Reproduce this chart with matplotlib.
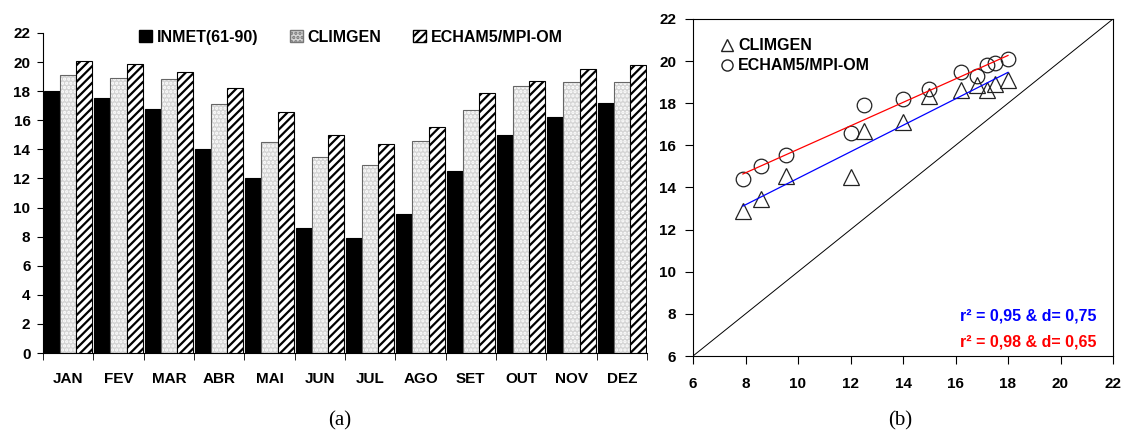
"""Monthly temperature: INMET normals vs CLIMGEN and ECHAM5/MPI-OM, bars (a) and scatter (b)."""
import matplotlib
matplotlib.use("Agg")
import matplotlib.pyplot as plt
import numpy as np
from matplotlib.lines import Line2D
from matplotlib.patches import Patch

plt.rcParams["font.family"] = ["Liberation Sans", "DejaVu Sans"]
plt.rcParams["font.weight"] = "bold"
plt.rcParams["hatch.linewidth"] = 1.6

MONTHS = ["JAN", "FEV", "MAR", "ABR", "MAI", "JUN", "JUL", "AGO", "SET", "OUT", "NOV", "DEZ"]
INMET = [18.0, 17.5, 16.8, 14.0, 12.0, 8.6, 7.9, 9.55, 12.5, 15.0, 16.2, 17.2]
CLIMGEN = [19.1, 18.9, 18.85, 17.1, 14.5, 13.45, 12.9, 14.55, 16.7, 18.35, 18.65, 18.65]
ECHAM = [20.1, 19.9, 19.3, 18.2, 16.6, 15.0, 14.4, 15.55, 17.9, 18.7, 19.5, 19.8]

LABELS = ["INMET(61-90)", "CLIMGEN", "ECHAM5/MPI-OM"]
STATS = ["r² = 0,95 & d= 0,75", "r² = 0,98 & d= 0,65"]

W, H = 1123, 436
fig = plt.figure(figsize=(W / 100, H / 100), dpi=100)

# ---- (a) bars
ax = fig.add_axes([43 / W, (H - 353) / H, (647 - 43) / W, (353 - 33) / H])
x = np.arange(len(MONTHS))
bw = 0.32
ax.bar(x - bw, INMET, bw, color="black", edgecolor="black", linewidth=0.8)
ax.bar(x, CLIMGEN, bw, color="#d4d4d4", hatch="....", edgecolor="white", linewidth=0)
ax.bar(x, CLIMGEN, bw, fill=False, edgecolor="#666666", linewidth=0.8)
ax.bar(x + bw, ECHAM, bw, color="white", hatch="////", edgecolor="black", linewidth=0.8)

ax.set_xlim(-0.5, len(MONTHS) - 0.5)
ax.set_ylim(0, 22)
ax.set_yticks(range(0, 23, 2))
ax.set_xticks(x)
ax.set_xticklabels(MONTHS)
ax.set_xticks(np.arange(-0.5, len(MONTHS), 1), minor=True)
ax.tick_params(axis="x", which="major", length=0, pad=14, labelsize=11)
ax.tick_params(axis="x", which="minor", length=5, direction="out")
ax.tick_params(axis="y", length=4, pad=5, labelsize=11)
for s in ("top", "right"):
    ax.spines[s].set_visible(False)

handles = [
    Patch(facecolor="black", edgecolor="black", label=LABELS[0]),
    Patch(facecolor="#d4d4d4", hatch="....", edgecolor="#777777", label=LABELS[1]),
    Patch(facecolor="white", hatch="////", edgecolor="black", label=LABELS[2]),
]
ax.legend(handles=handles, loc="upper center", bbox_to_anchor=(0.51, 1.055), ncol=3,
          frameon=False, fontsize=11.5, handlelength=0.8, handleheight=0.8,
          handletextpad=0.3, columnspacing=2.0)

# ---- (b) scatter
bx = fig.add_axes([693 / W, (H - 356) / H, (1113 - 693) / W, (356 - 19) / H])
bx.plot([6, 22], [6, 22], color="black", linewidth=0.7)
bx.plot(INMET, CLIMGEN, linestyle="none", marker="^", markersize=12,
        markerfacecolor="none", markeredgecolor="#222222", markeredgewidth=0.9)
bx.plot(INMET, ECHAM, linestyle="none", marker="o", markersize=10.5,
        markerfacecolor="none", markeredgecolor="#222222", markeredgewidth=0.9)

xs = np.array([min(INMET), max(INMET)])
for ys, col in ((CLIMGEN, "blue"), (ECHAM, "red")):
    k, b = np.polyfit(INMET, ys, 1)
    bx.plot(xs, k * xs + b, color=col, linewidth=0.9)

bx.set_xlim(6, 22)
bx.set_ylim(6, 22)
bx.set_xticks(range(6, 23, 2))
bx.set_yticks(range(6, 23, 2))
bx.tick_params(axis="x", length=6, pad=9, labelsize=11)
bx.tick_params(axis="y", length=6, pad=6, labelsize=11)

leg_handles = [
    Line2D([], [], linestyle="none", marker="^", markersize=9, markerfacecolor="none",
           markeredgecolor="#222222", label=LABELS[1]),
    Line2D([], [], linestyle="none", marker="o", markersize=8, markerfacecolor="none",
           markeredgecolor="#222222", label=LABELS[2]),
]
bx.legend(handles=leg_handles, loc="upper left", bbox_to_anchor=(0.035, 0.985), frameon=False,
          fontsize=11.5, handlelength=0.6, handletextpad=0.4, labelspacing=0.3)

bx.text(0.96, 0.119, STATS[0], color="blue", fontsize=11.5, ha="right", va="center",
        transform=bx.transAxes)
bx.text(0.96, 0.042, STATS[1], color="red", fontsize=11.5, ha="right", va="center",
        transform=bx.transAxes)

# ---- panel letters
for px, letter in ((340, "(a)"), (900, "(b)")):
    fig.text(px / W, 1 - 421 / H, letter, family="Liberation Serif", fontweight="normal",
             fontsize=15, ha="center", va="center")

fig.savefig("out.png", dpi=100)
